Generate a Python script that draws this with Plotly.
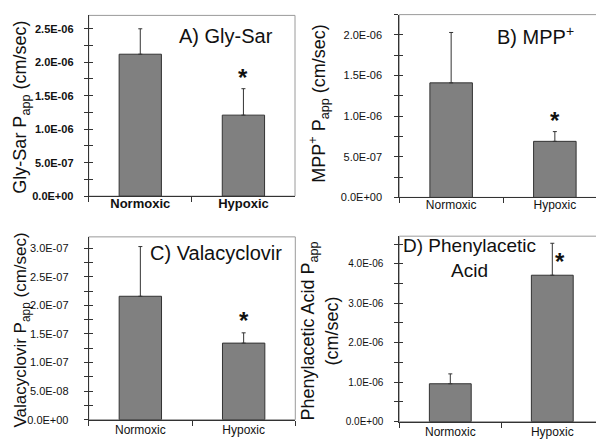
import plotly.graph_objects as go

categories = ["Normoxic", "Hypoxic"]

gly_sar = [2.12e-6, 1.21e-6]
gly_sar_err = [0.38e-6, 0.395e-6]

mpp = [1.41e-6, 0.69e-6]
mpp_err = [0.62e-6, 0.12e-6]

valacyclovir = [2.16e-7, 1.34e-7]
valacyclovir_err = [0.87e-7, 0.18e-7]

phenylacetic = [0.96e-6, 3.71e-6]
phenylacetic_err = [0.25e-6, 0.81e-6]

W, H = 604, 444
FONT = "Arial, Liberation Sans, sans-serif"


def px_x(x):
    return x / W


def px_y(y):
    return 1 - y / H


panels = [
    dict(vals=gly_sar, err=gly_sar_err, box=(80.7, 287.0, 7.5, 190.7), yr=2.7e-6, major=5e-7, minor=2.5e-7,
         tickbold=True, tfs=11, xfs=13, xbold=True, lab_stand=8, xstand=-5,
         title="A) Gly-Sar", tpos=(218, 28), tfsz=20,
         ytitle="Gly-Sar P<sub>app</sub> (cm/sec)", ytpos=(14, 101), ytfs=18,
         star=(1, 0, -4, True)),
    dict(vals=mpp, err=mpp_err, box=(391.3, 598.7, 6.7, 192.0), yr=2.25e-6, major=5e-7, minor=2.5e-7,
         tickbold=False, tfs=11, xfs=12, xbold=False, lab_stand=10, xstand=-4,
         title="B) MPP<sup>+</sup>", tpos=(527, 28), tfsz=20,
         ytitle="MPP<sup>+</sup> P<sub>app</sub> (cm/sec)", ytpos=(311, 97), ytfs=18,
         star=(1, 0, -4, True)),
    dict(vals=valacyclovir, err=valacyclovir_err, box=(80.7, 287.3, 232.0, 417.3), yr=3.2e-7, major=5e-8, minor=2.5e-8,
         tickbold=False, tfs=11, xfs=12, xbold=False, lab_stand=13, xstand=-1,
         title="C) Valacyclovir", tpos=(208, 248), tfsz=20,
         ytitle="Valacyclovir P<sub>app</sub> (cm/sec)", ytpos=(14, 327), ytfs=17,
         star=(1, 0, -3, True)),
    dict(vals=phenylacetic, err=phenylacetic_err, box=(391.3, 595.3, 231.3, 419.3), yr=4.7e-6, major=1e-6, minor=5e-7,
         tickbold=False, tfs=10, xfs=12, xbold=False, lab_stand=9, xstand=-1,
         title="D) Phenylacetic<br>Acid", tpos=(461, 253), tfsz=19,
         ytitle="Phenylacetic Acid P<sub>app</sub><br>(cm/sec)", ytpos=(312, 328), ytfs=18,
         star=(1, 8, -2, False)),
]

fig = go.Figure()
layout = dict(width=W, height=H, margin=dict(l=0, r=0, t=0, b=0),
              paper_bgcolor="white", plot_bgcolor="white", showlegend=False,
              font=dict(family=FONT, color="#222222"), bargap=0.59)
annotations = []
shapes = []

for i, p in enumerate(panels):
    n = i + 1
    xa = "x" if n == 1 else f"x{n}"
    ya = "y" if n == 1 else f"y{n}"
    xkey = "xaxis" if n == 1 else f"xaxis{n}"
    ykey = "yaxis" if n == 1 else f"yaxis{n}"
    ov = 4 + n
    ovkey = f"yaxis{ov}"
    x0, x1, y0, y1 = p["box"]

    fig.add_trace(go.Bar(
        x=categories, y=p["vals"], xaxis=xa, yaxis=ya,
        marker=dict(color="#808080", line=dict(color="#333333", width=1)),
        error_y=dict(type="data", symmetric=False, array=p["err"], arrayminus=[0, 0],
                     color="#333333", thickness=1, width=2),
        hoverinfo="skip",
    ))
    # invisible trace on overlay axis for crossing ticks
    fig.add_trace(go.Scatter(x=categories, y=[0, 0], xaxis=xa, yaxis=f"y{ov}",
                             mode="markers", marker=dict(opacity=0, size=1), hoverinfo="skip"))

    ticks = []
    k = 0
    while k * p["major"] <= p["yr"] * 1.0001:
        ticks.append(k * p["major"])
        k += 1
    ticktext = [f"{t:.1E}" for t in ticks]
    if p["tickbold"]:
        ticktext = [f"<b>{t}</b>" for t in ticktext]

    xlabels = [f"<b>{c}</b>" if p["xbold"] else c for c in categories]

    layout[xkey] = dict(domain=[px_x(x0), px_x(x1)], anchor=ya, type="category",
                        range=[-0.5, 1.5], tickson="boundaries", ticks="outside", ticklen=5,
                        tickcolor="#333333", showline=True, linecolor="#333333", linewidth=1,
                        showgrid=False, zeroline=False, tickmode="array",
                        tickvals=categories, ticktext=xlabels, ticklabelstandoff=p["xstand"],
                        tickfont=dict(family=FONT, size=p["xfs"], color="#111111"))
    common_y = dict(range=[0, p["yr"]], tickmode="array", tickvals=ticks,
                    showgrid=False, zeroline=False, tickcolor="#333333", ticklen=4)
    layout[ykey] = dict(domain=[px_y(y1), px_y(y0)], anchor=xa, ticks="outside",
                        showline=True, linecolor="#333333", linewidth=1,
                        ticktext=ticktext, ticklabelstandoff=p["lab_stand"],
                        tickfont=dict(family=FONT, size=p["tfs"], color="#111111"),
                        minor=dict(dtick=p["minor"], tick0=0, ticklen=4, tickcolor="#333333",
                                   showgrid=False, ticks="outside"),
                        **common_y)
    layout[ovkey] = dict(overlaying=ya, anchor=xa, side="left", ticks="inside",
                         showticklabels=False, showline=False,
                         minor=dict(dtick=p["minor"], tick0=0, ticklen=4, tickcolor="#333333",
                                    showgrid=False, ticks="inside"),
                         **common_y)

    shapes.append(dict(type="rect", xref=f"{xa} domain", yref=f"{ya} domain",
                       x0=0, x1=1, y0=0, y1=1, line=dict(color="#9a9a9a", width=1),
                       layer="below"))

    annotations.append(dict(text=p["title"], xref="paper", yref="paper",
                            x=px_x(p["tpos"][0]), y=px_y(p["tpos"][1]),
                            xanchor="center", yanchor="middle", showarrow=False,
                            font=dict(family=FONT, size=p["tfsz"], color="#111111")))
    annotations.append(dict(text=p["ytitle"], xref="paper", yref="paper",
                            x=px_x(p["ytpos"][0]), y=px_y(p["ytpos"][1]),
                            xanchor="center", yanchor="middle", showarrow=False, textangle=-90,
                            font=dict(family=FONT, size=p["ytfs"], color="#111111")))
    si, sx, sy, on_err = p["star"]
    annotations.append(dict(text="<b>*</b>", xref=xa, yref=ya,
                            x=categories[si], y=p["vals"][si] + (p["err"][si] if on_err else 0),
                            xshift=sx, yshift=sy, xanchor="center", yanchor="bottom",
                            showarrow=False,
                            font=dict(family=FONT, size=24, color="#111111")))

layout["annotations"] = annotations
layout["shapes"] = shapes
fig.update_layout(**layout)
fig.write_html("out.html")
